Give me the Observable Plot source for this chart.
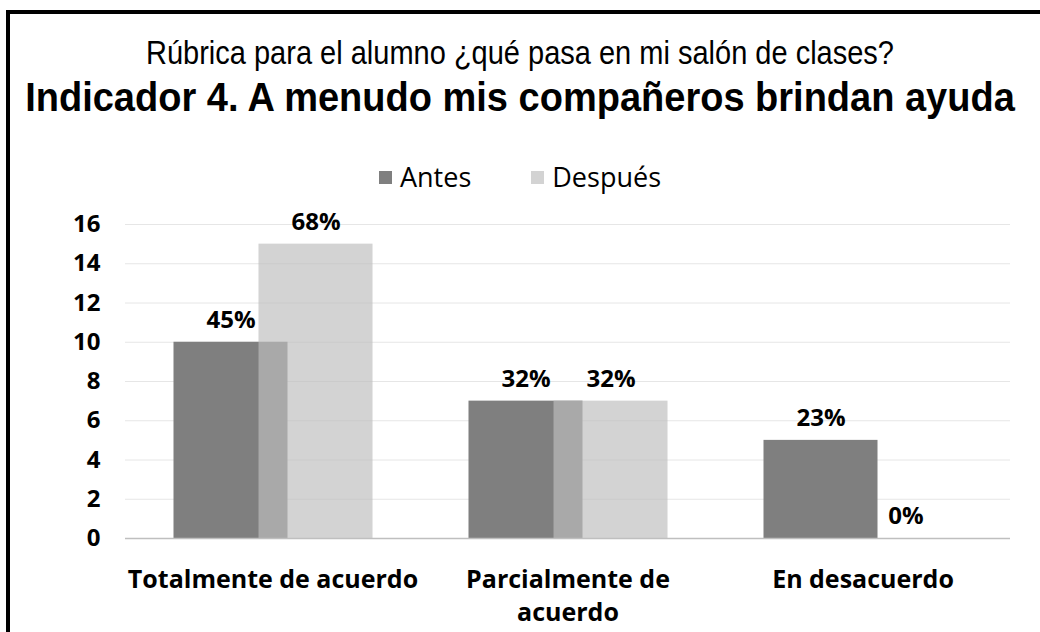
<!DOCTYPE html>
<html>
<head>
<meta charset="utf-8">
<script src="https://cdn.jsdelivr.net/npm/d3@7"></script>
<script src="https://cdn.jsdelivr.net/npm/@observablehq/plot@0.6"></script>
<style>
  html, body { margin: 0; padding: 0; background: #fff; }
  body { width: 1040px; height: 632px; position: relative; overflow: hidden; }
  #frame { position: absolute; left: 6px; top: 10px; width: 1100px; height: 700px;
           border-top: 4px solid #000; border-left: 4px solid #000; }
  .t1 { position: absolute; left: 0; width: 1040px; top: 35px; text-align: center; white-space: nowrap;
        font-family: "Liberation Sans", Arial, sans-serif; font-size: 29px; color: #000;
        transform: scaleY(1.12); transform-origin: center top; }
  .t2 { position: absolute; left: 0; width: 1040px; top: 75px; text-align: center; white-space: nowrap;
        font-family: "Liberation Sans", Arial, sans-serif; font-size: 38px; font-weight: bold; color: #000;
        transform: scaleY(1.05); transform-origin: center top; }
  #legend { position: absolute; left: 0; width: 1040px; top: 158px; text-align: center;
            font-family: "Open Sans", sans-serif; font-size: 27px; color: #000; }
  #legend span.item { display: inline-block; margin: 0 30px; }
  #legend span.sw { display: inline-block; width: 13px; height: 13px; margin-right: 8px; vertical-align: 3px; }
  #chart { position: absolute; left: 0; top: 200px; }
</style>
</head>
<body>
<div id="frame"></div>
<div class="t1">Rúbrica para el alumno ¿qué pasa en mi salón de clases?</div>
<div class="t2">Indicador 4. A menudo mis compañeros brindan ayuda</div>
<div id="legend"></div>
<div id="chart"></div>
<script>
const categories = ["Totalmente de acuerdo", "Parcialmente de acuerdo", "En desacuerdo"];
const categoryLabels = ["Totalmente de acuerdo", "Parcialmente de\nacuerdo", "En desacuerdo"];
const series = ["Antes", "Después"];
const antes = [10, 7, 5];
const despues = [15, 7, 0];
const antesPct = ["45%", "32%", "23%"];
const despuesPct = ["68%", "32%", "0%"];
const yTicks = [0, 2, 4, 6, 8, 10, 12, 14, 16];
const colors = ["#7f7f7f", "#bdbdbd"];

const data = categories.flatMap((c, i) => [
  {category: c, series: "Antes", value: antes[i], label: antesPct[i]},
  {category: c, series: "Después", value: despues[i], label: despuesPct[i]}
]);

const legend = document.getElementById("legend");
series.forEach((s, i) => {
  const item = document.createElement("span");
  item.className = "item";
  const sw = document.createElement("span");
  sw.className = "sw";
  sw.style.background = i === 0 ? colors[0] : "#d3d3d3";
  item.appendChild(sw);
  item.appendChild(document.createTextNode(s));
  legend.appendChild(item);
});

const chart = Plot.plot({
  width: 1040,
  height: 432,
  marginTop: 24,
  marginBottom: 94,
  marginLeft: 125,
  marginRight: 30,
  style: {fontFamily: "Open Sans, sans-serif", color: "#000", background: "transparent"},
  fx: {domain: categories, padding: 0, axis: null},
  x: {domain: series, paddingInner: 0, paddingOuter: 0.735, axis: null},
  y: {domain: [0, 16], axis: null, label: null},
  marks: [
    Plot.gridY(yTicks.filter(d => d > 0), {stroke: "#e6e6e6", strokeOpacity: 1}),
    Plot.barY(data.filter(d => d.series === "Antes"), {fx: "category", x: "series", y: "value", fill: colors[0], insetLeft: -14.5, insetRight: -14.5}),
    Plot.barY(data.filter(d => d.series === "Después"), {fx: "category", x: "series", y: "value", fill: colors[1], fillOpacity: 0.67, insetLeft: -14.5, insetRight: -14.5}),
    Plot.ruleY([0], {stroke: "#bfbfbf", strokeWidth: 1.5}),
    Plot.axisY(yTicks, {tickSize: 0, tickPadding: 25, fontSize: 24, fontWeight: "bold", label: null, tickFormat: d => String(d)}),
    Plot.text(data, {fx: "category", x: "series", y: "value", text: "label", dy: -22, fontSize: 24, fontWeight: "bold", fill: "#000"}),
    Plot.text(categories, {fx: d => d, text: (d, i) => categoryLabels[i], frameAnchor: "bottom", lineAnchor: "top", dy: 26, lineHeight: 1.32, fontSize: 25, fontWeight: "bold", fill: "#000"})
  ]
});
document.getElementById("chart").appendChild(chart);
</script>
</body>
</html>
